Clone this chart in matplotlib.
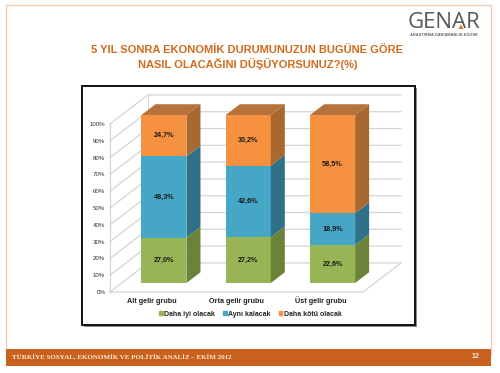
import matplotlib
matplotlib.use("Agg")
import matplotlib.pyplot as plt
from matplotlib.patches import Rectangle, Polygon, Patch

plt.rcParams['font.family'] = ['Liberation Sans', 'DejaVu Sans']

W, H = 500, 373

categories = ["Alt gelir grubu", "Orta gelir grubu", "Üst gelir grubu"]
series_names = ["Daha iyi olacak", "Aynı kalacak", "Daha kötü olacak"]
better = [27.0, 27.2, 22.6]
same = [48.3, 42.6, 18.9]
worse = [24.7, 30.2, 58.5]
y_ticks = [0, 10, 20, 30, 40, 50, 60, 70, 80, 90, 100]

title_lines = ["5 YIL SONRA EKONOMİK DURUMUNUZUN BUGÜNE GÖRE",
               "NASIL OLACAĞINI DÜŞÜYORSUNUZ?(%)"]
footer_text = "TÜRKİYE SOSYAL, EKONOMİK VE POLİTİK ANALİZ – EKİM 2012"
page_number = "12"

front_colors = ["#98B555", "#45A6C6", "#F6923F"]
side_colors = ["#6B8239", "#2F7189", "#A9682F"]
top_color = "#B5723A"
orange = "#C9621F"
grid_color = "#D4D4D4"

# how far the floor goes back, in axis units
depth_x = 0.45
depth_y = 17.3
bar_width = 0.534
# bar front and back as fraction of the floor depth
d_front = 0.31
d_back = 0.68


def draw_slide(fig):
    bg = fig.add_axes([0, 0, 1, 1], zorder=0)
    bg.set_xlim(0, W)
    bg.set_ylim(H, 0)
    bg.axis("off")

    # slide border and footer
    bg.add_patch(Rectangle((6, 5), 485, 350, fc="#FFFFFD", ec="#F0CDB0", lw=1))
    bg.add_patch(Rectangle((6, 349), 485, 17, fc=orange, ec="none"))
    bg.text(12, 357, footer_text, color="#FBE9DA", fontsize=5.0, fontweight="bold",
            family=["Liberation Serif", "DejaVu Serif"], va="center")
    bg.text(476, 357, page_number, color="#FBE9DA", fontsize=5, fontweight="bold",
            va="center", ha="center")

    # logo
    bg.text(444, 22, "GENAR", color="#55595C", fontsize=16, ha="center", va="center",
            family=["Open Sans", "DejaVu Sans"])
    bg.add_patch(Polygon([(458.5, 29), (463.5, 29), (461, 24.5)], fc="#D9752B", ec="none"))
    bg.text(444, 35, "ARAŞTIRMA DANIŞMANLIK EĞİTİM", color="#666666", fontsize=2.9,
            fontweight="bold", ha="center", va="center")

    # title
    bg.text(247, 50, title_lines[0], color="#D2691E", fontsize=8.0, fontweight="bold",
            ha="center", va="center")
    bg.text(248, 64, title_lines[1], color="#D2691E", fontsize=8.0, fontweight="bold",
            ha="center", va="center")

    # chart box with a shadow
    bg.add_patch(Rectangle((84, 88), 333, 239, fc="#8A8A8A", ec="none"))
    bg.add_patch(Rectangle((82, 86), 333, 239, fc="white", ec="#111111", lw=1.4))


def draw_walls(ax, n):
    for t in y_ticks:
        ax.plot([0, depth_x, n + depth_x], [t, t + depth_y, t + depth_y],
                color=grid_color, lw=0.9, clip_on=False, zorder=1)
    ax.plot([0, 0], [0, 100], color=grid_color, lw=0.9, clip_on=False, zorder=1)
    ax.plot([depth_x, depth_x], [depth_y, 100 + depth_y], color=grid_color, lw=0.7,
            clip_on=False, zorder=1)
    ax.plot([0, n, n + depth_x], [0, 0, depth_y], color=grid_color, lw=0.9,
            clip_on=False, zorder=1)


def draw_bars(ax):
    stacks = [better, same, worse]
    fx = d_front * depth_x
    fy = d_front * depth_y
    bx = d_back * depth_x
    by = d_back * depth_y

    for i in range(len(categories)):
        x0 = i + 0.5 + fx - bar_width / 2
        x1 = x0 + bar_width
        bottom = 0
        for j, values in enumerate(stacks):
            v = values[i]
            ax.bar(x0, v, bar_width, bottom=bottom + fy, align="edge",
                   color=front_colors[j], zorder=3, clip_on=False)
            ax.add_patch(Polygon([(x1, bottom + fy), (x1 + bx - fx, bottom + by),
                                  (x1 + bx - fx, bottom + v + by), (x1, bottom + v + fy)],
                                 fc=side_colors[j], ec="none", zorder=3, clip_on=False))
            label = f"{v:.1f}%".replace(".", ",")
            ax.text((x0 + x1) / 2, bottom + fy + v / 2, label, color="#1A1A1A", fontsize=5.2,
                    fontweight="bold", ha="center", va="center", zorder=4)
            bottom += v
        ax.add_patch(Polygon([(x0, bottom + fy), (x1, bottom + fy),
                              (x1 + bx - fx, bottom + by), (x0 + bx - fx, bottom + by)],
                             fc=top_color, ec="none", zorder=3, clip_on=False))


def main():
    fig = plt.figure(figsize=(W / 100, H / 100), dpi=100, facecolor="white")
    draw_slide(fig)

    ax = fig.add_axes([110 / W, (H - 292) / H, 253 / W, 168 / H], zorder=1)
    ax.patch.set_alpha(0)
    n = len(categories)
    ax.set_xlim(0, n)
    ax.set_ylim(0, 100)
    for s in ax.spines.values():
        s.set_visible(False)

    draw_walls(ax, n)
    draw_bars(ax)

    ax.set_yticks(y_ticks)
    ax.set_yticklabels([f"{t}%" for t in y_ticks], fontsize=4.4, color="#333333")
    ax.set_xticks([i + 0.5 for i in range(n)])
    ax.set_xticklabels(categories, fontsize=5.2, fontweight="bold", color="#222222", va="baseline")
    ax.tick_params(axis="y", length=0, pad=3.5)
    ax.tick_params(axis="x", length=0, pad=8)

    handles = [Patch(color=c) for c in front_colors]
    ax.legend(handles, series_names, ncols=3, frameon=False, loc="center",
              bbox_to_anchor=(0.555, -0.132), handlelength=0.55, handleheight=0.55,
              handletextpad=0.25, columnspacing=1.1, prop={"size": 5.0, "weight": "bold"},
              labelcolor="#222222")

    fig.savefig("out.png", dpi=100)


if __name__ == "__main__":
    main()
